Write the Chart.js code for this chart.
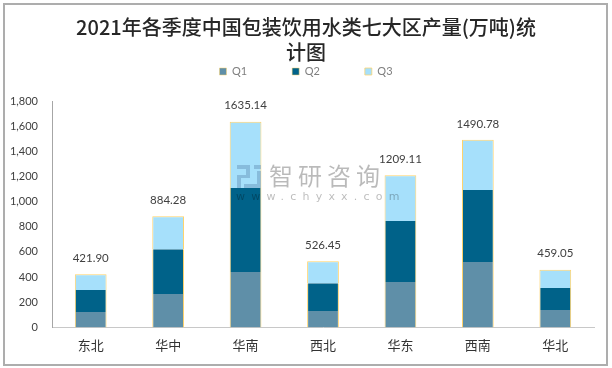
<!DOCTYPE html>
<html lang="zh">
<head>
  <meta charset="UTF-8">
  <title>2021年各季度中国包装饮用水类七大区产量(万吨)统计图</title>
  <script src="https://cdn.jsdelivr.net/npm/chart.js"></script>
  <style>
    html, body { margin: 0; padding: 0; background: #fff; }
    #wrap { position: relative; width: 612px; height: 368px; overflow: hidden; }
    #frame { position: absolute; left: 3px; top: 3px; width: 605px; height: 363px; box-sizing: border-box; border: 2px solid #adadad; pointer-events: none; }
  </style>
</head>
<body>
  <div id="wrap">
    <canvas id="chart" width="612" height="368"></canvas>
    <div id="frame"></div>
  </div>

  <script>
    const regions = ['东北', '华中', '华南', '西北', '华东', '西南', '华北'];
    const q1 = [122, 265, 440, 130, 360, 520, 138];
    const q2 = [175, 357, 668, 222, 486, 573, 175];
    const q3 = [125, 262, 527, 174, 363, 398, 146];
    const totals = ['421.90', '884.28', '1635.14', '526.45', '1209.11', '1490.78', '459.05'];
    const titleLines = ['2021年各季度中国包装饮用水类七大区产量(万吨)统', '计图'];

    const sideBorder = { left: 1, right: 1, top: 0, bottom: 0 };
    const capBorder = { left: 1, right: 1, top: 1, bottom: 0 };
    const edge = '#ffd36b';

    // 图例横向间距大，但不要占那么高
    const legendHeight = {
      id: 'legendHeight',
      beforeLayout(chart) {
        const legend = chart.legend;
        if (legend.fitPatched) return;
        const fit = legend.fit;
        legend.fit = function () {
          fit.call(this);
          this.height = 80;
        };
        legend.fitPatched = true;
      }
    };

    // 柱顶合计
    const totalLabels = {
      id: 'totalLabels',
      afterDatasetsDraw(chart) {
        const c = chart.ctx;
        const x = chart.scales.x, y = chart.scales.y;
        c.save();
        c.font = '11.5px Lato, sans-serif';
        c.fillStyle = '#404040';
        c.textAlign = 'center';
        c.textBaseline = 'middle';
        totals.forEach((t, i) => {
          c.fillText(t, x.getPixelForValue(i), y.getPixelForValue(parseFloat(t)) - 16);
        });
        c.restore();
      }
    };

    // 水印
    const watermark = {
      id: 'watermark',
      afterDraw(chart) {
        const c = chart.ctx;
        c.save();
        c.fillStyle = 'rgba(90, 135, 175, 0.4)';
        c.fillRect(237, 165, 13, 4);
        c.fillRect(246, 169, 4, 9);
        c.fillRect(237, 175, 9, 3);
        c.fillRect(237, 178, 4, 10);
        c.fillRect(254, 165, 7, 4);
        c.fillRect(257, 171, 4, 13);
        c.fillRect(244, 184, 17, 4);
        c.fillStyle = 'rgba(0, 0, 0, 0.27)';
        c.textBaseline = 'middle';
        c.textAlign = 'left';
        c.font = '24px "Noto Sans CJK SC", sans-serif';
        c.letterSpacing = '5px';
        c.fillText('智研咨询', 269, 176);
        c.font = '11px "DejaVu Sans", sans-serif';
        c.letterSpacing = '6.2px';
        c.fillText('www.chyxx.com', 236, 197);
        c.restore();
      }
    };

    new Chart(document.getElementById('chart'), {
      type: 'bar',
      data: {
        labels: regions,
        datasets: [
          { label: 'Q1', data: q1, backgroundColor: '#5f8fa8', borderColor: edge, borderWidth: sideBorder, borderSkipped: false },
          { label: 'Q2', data: q2, backgroundColor: '#006289', borderColor: edge, borderWidth: sideBorder, borderSkipped: false },
          { label: 'Q3', data: q3, backgroundColor: '#a6e0fb', borderColor: edge, borderWidth: capBorder, borderSkipped: false }
        ]
      },
      plugins: [legendHeight, totalLabels, watermark],
      options: {
        responsive: false,
        animation: false,
        layout: { padding: { left: 0, right: 0, top: 8, bottom: 5 } },
        categoryPercentage: 0.41,
        barPercentage: 1,
        plugins: {
          title: {
            display: true,
            text: titleLines,
            color: '#262626',
            font: { family: '"Noto Sans CJK SC", sans-serif', size: 20, weight: '500', lineHeight: 1.25 },
            padding: { top: 7, bottom: -44 }
          },
          legend: {
            position: 'top',
            labels: {
              boxWidth: 7,
              boxHeight: 7,
              padding: 45,
              color: '#7f7f7f',
              font: { family: 'Lato, sans-serif', size: 11 }
            }
          },
          tooltip: { enabled: false }
        },
        scales: {
          x: {
            stacked: true,
            grid: { display: false, drawTicks: false },
            border: { color: '#c8c8c8', width: 1 },
            ticks: {
              color: '#333333',
              padding: 10,
              font: { family: '"Noto Sans CJK SC", sans-serif', size: 13 }
            }
          },
          y: {
            stacked: true,
            min: 0,
            max: 1800,
            grid: { display: false, drawTicks: false },
            border: { color: '#a6a6a6', width: 1 },
            afterFit(axis) { axis.width = 52; },
            ticks: {
              stepSize: 200,
              color: '#404040',
              padding: 14,
              font: { family: 'Lato, sans-serif', size: 11 },
              callback: v => v.toLocaleString('en-US')
            }
          },
          // 右侧留白，让标题和图例仍在整幅图居中
          rightGap: {
            position: 'right',
            display: true,
            grid: { display: false, drawTicks: false },
            border: { display: false },
            ticks: { display: false },
            afterFit(axis) { axis.width = 18; }
          }
        }
      }
    });
  </script>
</body>
</html>
